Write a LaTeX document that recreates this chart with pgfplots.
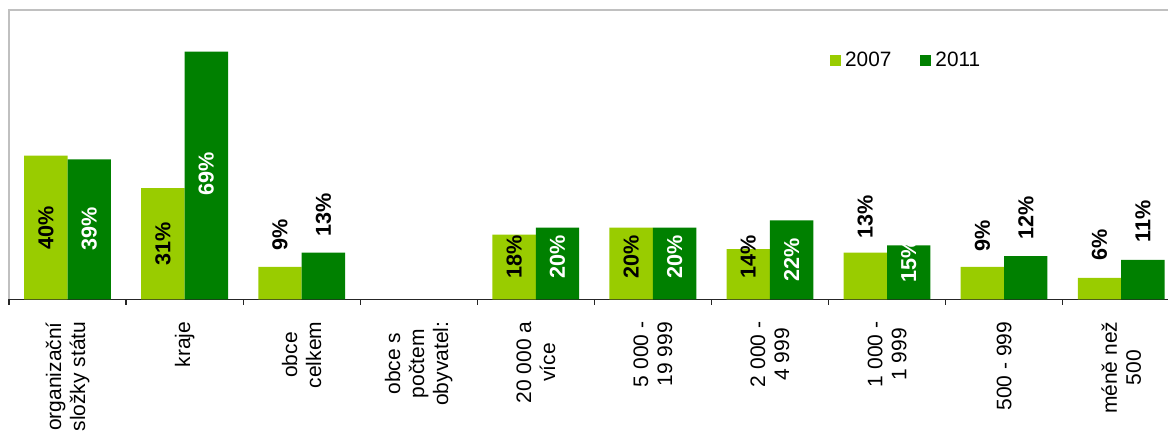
\documentclass[border=0pt]{standalone}
\usepackage{pgfplots}
\pgfplotsset{compat=1.18}
\usepackage{fontspec}
\setmainfont{Liberation Sans}

\definecolor{c2007}{HTML}{99CC00}
\definecolor{c2011}{HTML}{008000}
\definecolor{frame}{HTML}{C0C0C0}

\tikzset{
  lbl/.style={rotate=90, inner sep=0pt, font=\fontsize{10.8}{12}\selectfont\bfseries},
}

\begin{document}
\begin{tikzpicture}
\begin{axis}[
  at={(0,0)}, anchor=south west,
  scale only axis,
  width=579.5pt, height=144.65pt,
  xmin=-0.5, xmax=9.4,
  ymin=0, ymax=80.6,
  ybar=0pt, bar width=21.7pt,
  axis x line*=bottom, axis y line=none,
  x axis line style={line width=0.6pt, black!85},
  xtick={0,...,9},
  xticklabels={{organizační\\složky státu}, kraje, {obce\\celkem},
    {obce s\\počtem\\obyvatel:}, {20 000 a\\více}, {5 000 -\\19 999},
    {2 000 -\\4 999}, {1 000 -\\1 999}, 500 - 999, {méně než\\500}},
  minor xtick={-0.5,0.5,1.5,2.5,3.5,4.5,5.5,6.5,7.5,8.5},
  major tick length=0pt, minor tick length=2.85pt,
  tick align=outside,
  minor tick style={line width=0.6pt, black!85},
  xticklabel style={rotate=90, anchor=east, align=center, inner sep=0pt,
    font=\fontsize{10.5}{12}\selectfont},
  xticklabel shift=11pt,
  clip=false,
  legend columns=2,
  legend style={at={(0.703,0.824)}, anchor=west, draw=none, fill=none,
    font=\fontsize{10.4}{12}\selectfont,
    nodes={inner xsep=2pt, inner ysep=1pt},
    /tikz/every even column/.append style={column sep=12.5pt}},
  legend image code/.code={\path[#1, draw=none] (0pt,-2.75pt) rectangle (5.5pt,2.75pt);},
]
% frame of the plot area (left and top)
\draw[frame, line width=0.6pt] (rel axis cs:0,0) -- (rel axis cs:0,1) -- (rel axis cs:1,1);

\addplot[fill=c2007, draw=none] coordinates {
  (0,40) (1,31) (2,9) (4,18) (5,20) (6,14) (7,13) (8,9) (9,6)
};
\addplot[fill=c2011, draw=none] coordinates {
  (0,39) (1,69) (2,13) (4,20) (5,20) (6,22) (7,15) (8,12) (9,11)
};
\legend{2007, 2011}

% data labels
\node[lbl] at (axis cs:-0.1854,19.9) {40\%};
\node[lbl, white] at (axis cs:0.1854,19.6) {39\%};
\node[lbl] at (axis cs:0.8146,15.5) {31\%};
\node[lbl, white] at (axis cs:1.1854,34.8) {69\%};
\node[lbl] at (axis cs:1.8146,18.0) {9\%};
\node[lbl] at (axis cs:2.1854,23.6) {13\%};
\node[lbl] at (axis cs:3.8146,11.9) {18\%};
\node[lbl, white] at (axis cs:4.1854,11.8) {20\%};
\node[lbl] at (axis cs:4.8146,11.8) {20\%};
\node[lbl, white] at (axis cs:5.1854,11.8) {20\%};
\node[lbl] at (axis cs:5.8146,11.9) {14\%};
\node[lbl, white] at (axis cs:6.1854,10.9) {22\%};
\node[lbl] at (axis cs:6.8146,23.0) {13\%};
\node[lbl, white] at (axis cs:7.1854,10.6) {15\%};
\node[lbl] at (axis cs:7.8146,17.8) {9\%};
\node[lbl] at (axis cs:8.1854,22.6) {12\%};
\node[lbl] at (axis cs:8.8146,15.1) {6\%};
\node[lbl] at (axis cs:9.1854,21.7) {11\%};
\end{axis}
\pgfresetboundingbox
\useasboundingbox (-4.5pt,-66.35pt) rectangle (579.5pt,149.65pt);
\end{tikzpicture}
\end{document}
